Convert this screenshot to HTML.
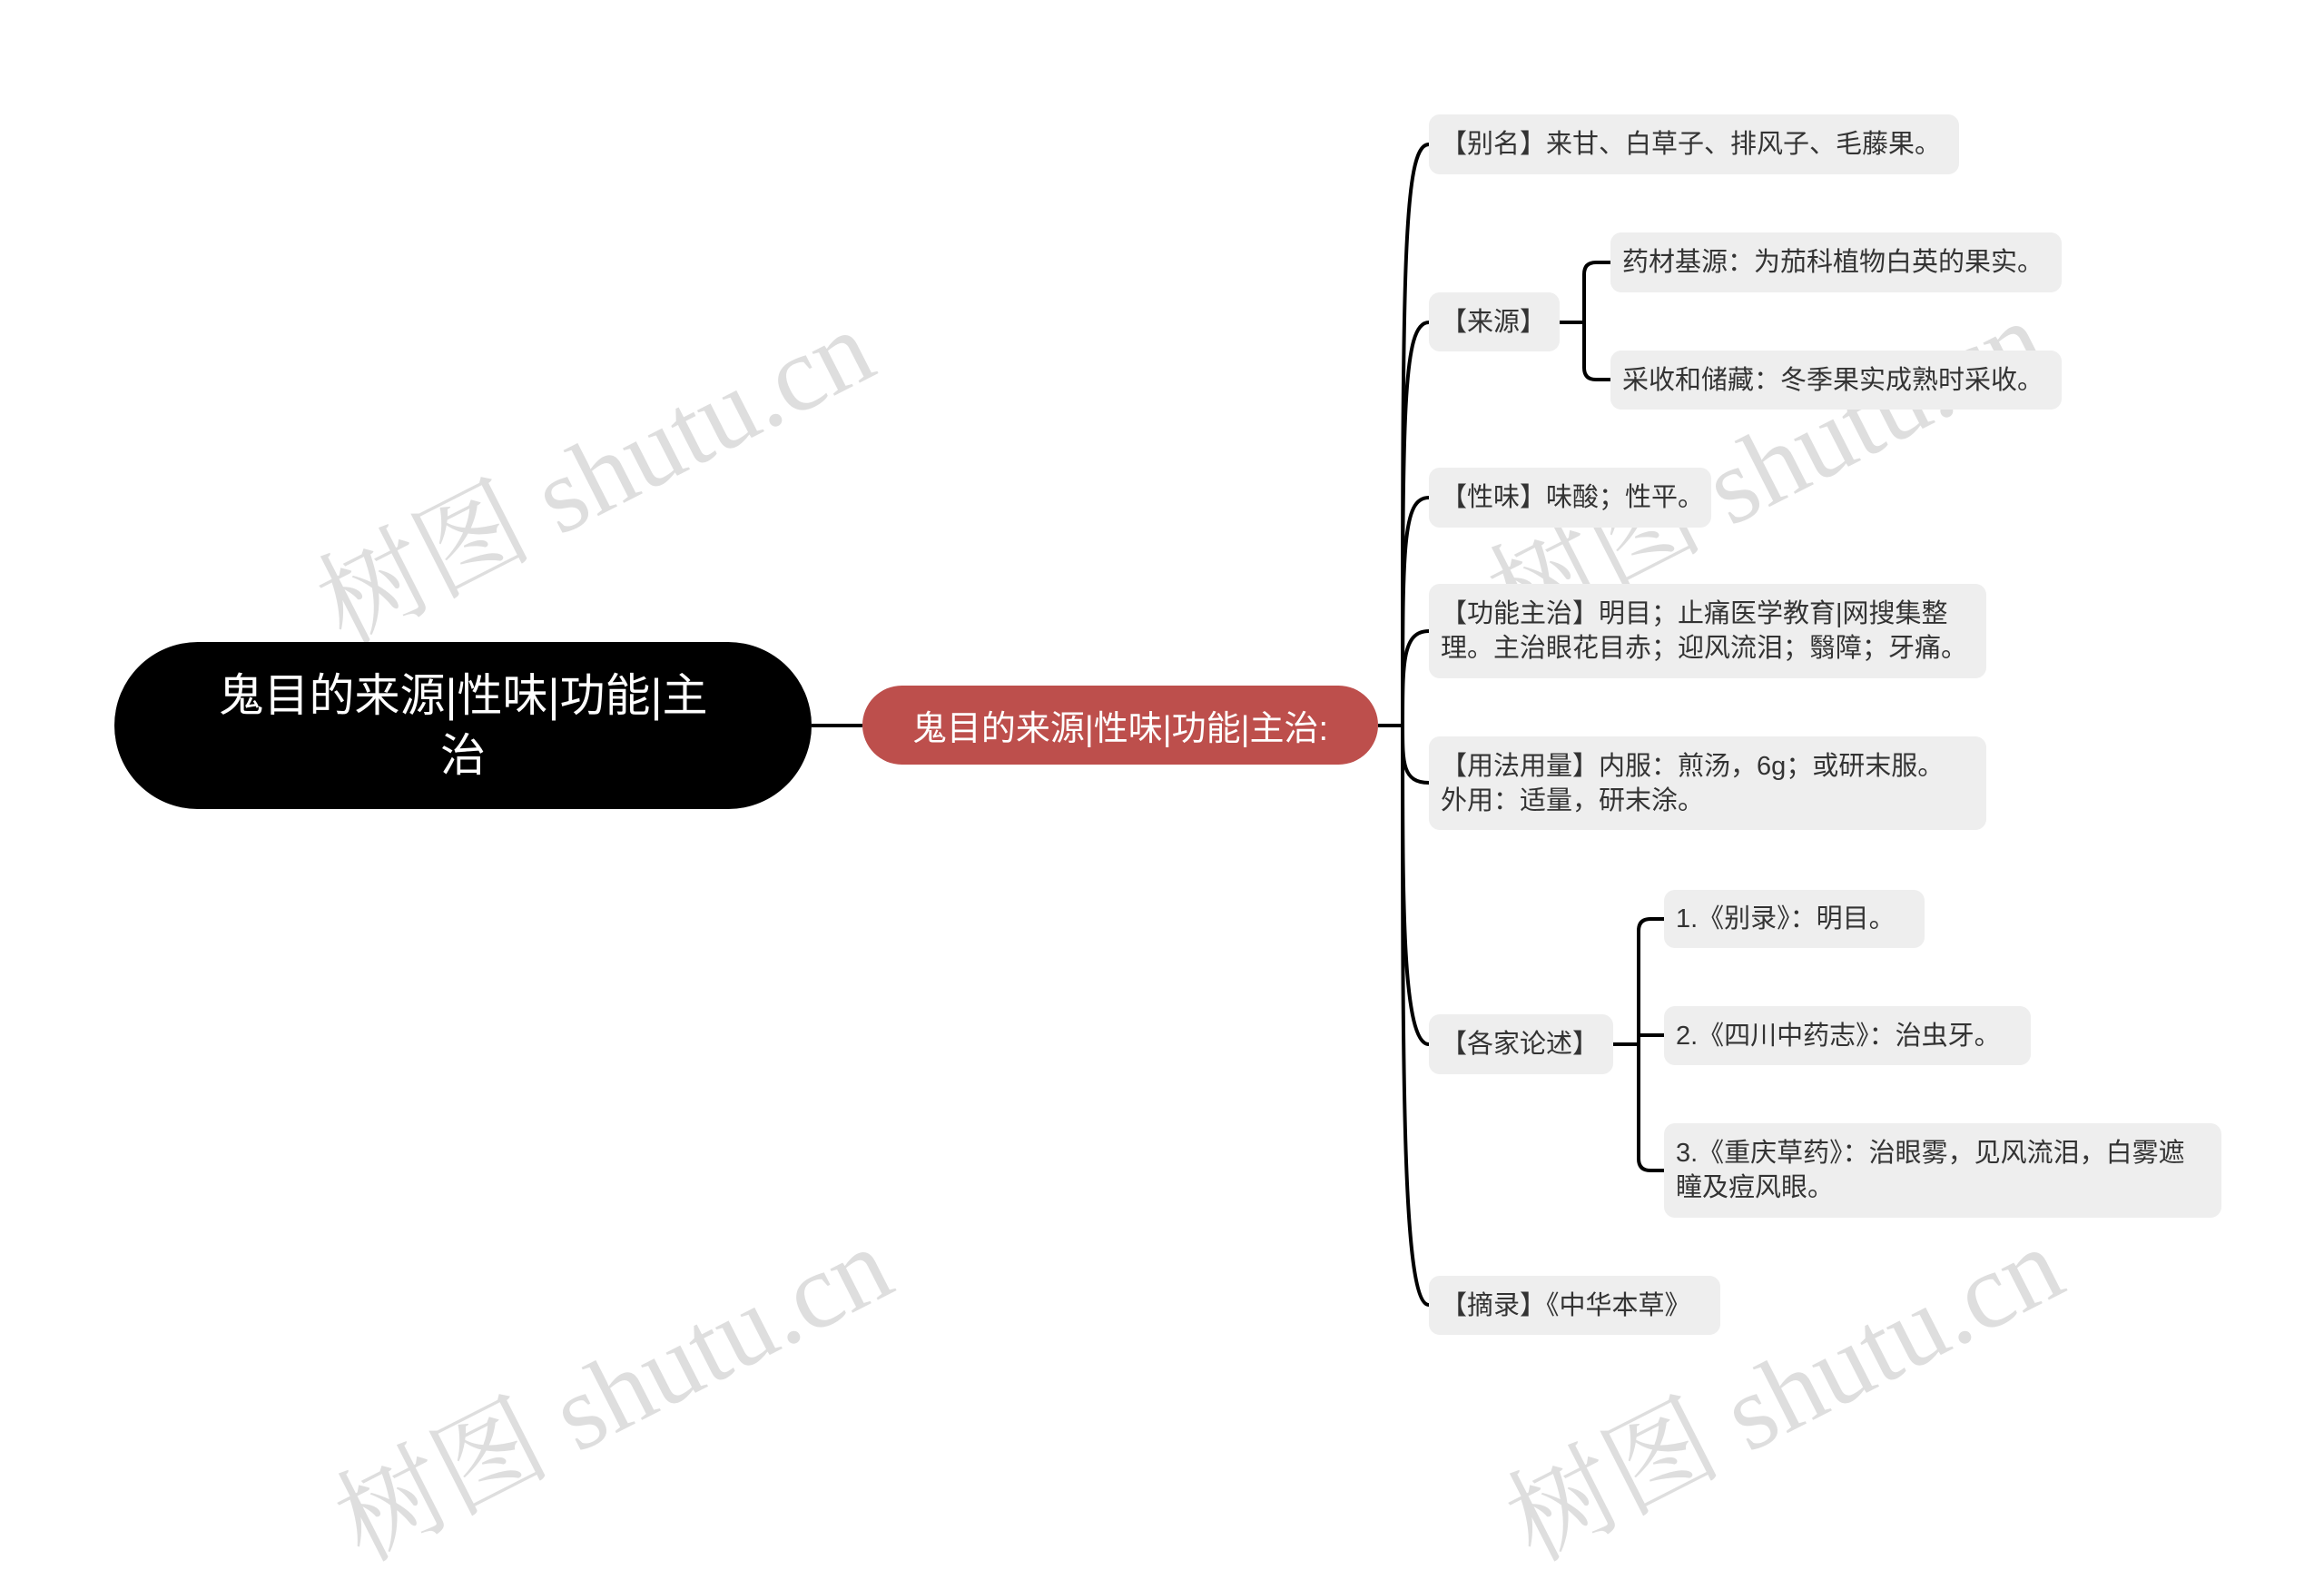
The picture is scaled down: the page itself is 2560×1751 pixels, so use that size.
<!DOCTYPE html>
<html><head><meta charset="utf-8">
<style>
body{margin:0;width:2560px;height:1589px;background:#fff;position:relative;overflow:hidden;font-family:"Liberation Sans","Noto Sans CJK SC",sans-serif;}
.n{position:absolute;box-sizing:border-box;background:#eeeeee;border-radius:12px;color:#333;font-size:29px;line-height:38px;padding:0 13px;display:flex;align-items:center;white-space:nowrap;}
.wm{position:absolute;font-family:"Liberation Serif","Noto Serif CJK SC",serif;font-size:118px;color:rgba(0,0,0,0.13);transform:rotate(-27deg);white-space:nowrap;transform-origin:center;}
</style></head><body>
<svg width="2560" height="1589" style="position:absolute;left:0;top:0">
<g fill="none" stroke="#000" stroke-width="4">
<path d="M894,799 H950"/>
<path d="M1518,799 H1545"/>
<path d="M1545,799 C1545,300 1545,159 1574,159"/>
<path d="M1545,799 C1545,450 1545,355 1574,355"/>
<path d="M1545,799 C1545,600 1545,548 1574,548"/>
<path d="M1545,799 C1545,730 1545,695 1574,695"/>
<path d="M1545,799 C1545,840 1545,862 1574,862"/>
<path d="M1545,799 C1545,1000 1545,1150 1574,1150"/>
<path d="M1545,799 C1545,1200 1545,1437 1574,1437"/>
<path d="M1718,355 H1745"/>
<path d="M1774,289 H1758 Q1745,289 1745,302 V405 Q1745,418 1758,418 H1774"/>
<path d="M1777,1150 H1805"/>
<path d="M1833,1012 H1818 Q1805,1012 1805,1025 V1276 Q1805,1289 1818,1289 H1833"/>
<path d="M1805,1140 H1833"/>
</g></svg>
<div class="wm" style="left:320px;top:430px">树图 shutu.cn</div>
<div class="wm" style="left:1610px;top:420px">树图 shutu.cn</div>
<div class="wm" style="left:340px;top:1440px">树图 shutu.cn</div>
<div class="wm" style="left:1630px;top:1440px">树图 shutu.cn</div>
<div style="position:absolute;left:126px;top:707px;width:768px;height:184px;background:#000;border-radius:92px;color:#fff;font-size:50px;line-height:66px;text-align:center;display:flex;align-items:center;justify-content:center;padding:0 100px;box-sizing:border-box">鬼目的来源|性味|功能|主治</div>
<div style="position:absolute;left:950px;top:755px;width:568px;height:87px;background:#bd4f4c;border-radius:44px;color:#fff;font-size:38px;display:flex;align-items:center;justify-content:center">鬼目的来源|性味|功能|主治:</div>
<div class="n" style="left:1574px;top:126px;width:584px;height:66px">【别名】来甘、白草子、排风子、毛藤果。</div>
<div class="n" style="left:1574px;top:322px;width:144px;height:65px">【来源】</div>
<div class="n" style="left:1774px;top:256px;width:497px;height:66px">药材基源：为茄科植物白英的果实。</div>
<div class="n" style="left:1774px;top:386px;width:497px;height:65px">采收和储藏：冬季果实成熟时采收。</div>
<div class="n" style="left:1574px;top:515px;width:311px;height:66px">【性味】味酸；性平。</div>
<div class="n" style="left:1574px;top:643px;width:614px;height:104px">【功能主治】明目；止痛医学教育|网搜集整<br>理。主治眼花目赤；迎风流泪；翳障；牙痛。</div>
<div class="n" style="left:1574px;top:811px;width:614px;height:103px">【用法用量】内服：煎汤，6g；或研末服。<br>外用：适量，研末涂。</div>
<div class="n" style="left:1574px;top:1117px;width:203px;height:66px">【各家论述】</div>
<div class="n" style="left:1833px;top:980px;width:287px;height:64px">1.《别录》：明目。</div>
<div class="n" style="left:1833px;top:1108px;width:404px;height:65px">2.《四川中药志》：治虫牙。</div>
<div class="n" style="left:1833px;top:1237px;width:614px;height:104px">3.《重庆草药》：治眼雾，见风流泪，白雾遮<br>瞳及痘风眼。</div>
<div class="n" style="left:1574px;top:1405px;width:321px;height:65px">【摘录】《中华本草》</div>
</body></html>
